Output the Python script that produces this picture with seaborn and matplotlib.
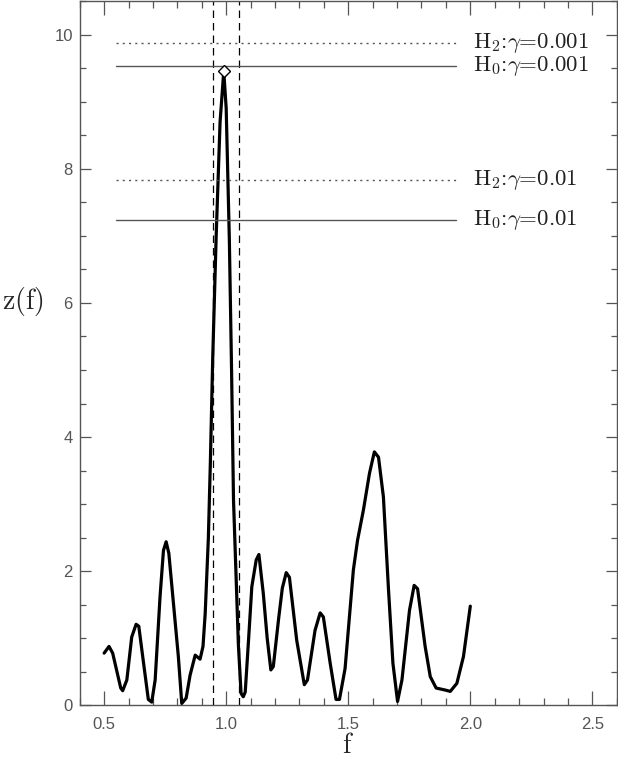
import numpy as np
import matplotlib
matplotlib.use('Agg')
import matplotlib.pyplot as plt
import seaborn as sns
from matplotlib.ticker import MultipleLocator

# periodogram values
freq = [0.500, 0.520, 0.535, 0.568, 0.576, 0.593, 0.613, 0.631, 0.642, 0.658,
        0.681, 0.695, 0.709, 0.729, 0.743, 0.754, 0.765, 0.784, 0.804, 0.818,
        0.836, 0.852, 0.873, 0.893, 0.905, 0.914, 0.927, 0.935, 0.945, 0.959,
        0.975, 0.990, 1.000, 1.013, 1.022, 1.030, 1.041, 1.050, 1.061, 1.070,
        1.078, 1.092, 1.105, 1.123, 1.134, 1.152, 1.168, 1.183, 1.193, 1.215,
        1.230, 1.246, 1.259, 1.289, 1.320, 1.333, 1.364, 1.385, 1.398, 1.426,
        1.450, 1.464, 1.487, 1.521, 1.538, 1.562, 1.587, 1.607, 1.624, 1.644,
        1.665, 1.683, 1.702, 1.720, 1.751, 1.770, 1.784, 1.815, 1.836, 1.860,
        1.897, 1.918, 1.945, 1.972, 2.000]
zf = [0.78, 0.88, 0.78, 0.26, 0.22, 0.38, 1.02, 1.21, 1.18, 0.73,
      0.09, 0.05, 0.38, 1.62, 2.31, 2.44, 2.27, 1.52, 0.73, 0.03,
      0.11, 0.45, 0.75, 0.69, 0.88, 1.37, 2.50, 3.60, 5.20, 7.00,
      8.70, 9.45, 8.90, 6.93, 5.00, 3.06, 1.87, 0.90, 0.18, 0.13,
      0.20, 1.00, 1.77, 2.17, 2.25, 1.67, 1.00, 0.53, 0.58, 1.30,
      1.75, 1.98, 1.91, 0.97, 0.31, 0.38, 1.12, 1.38, 1.32, 0.63,
      0.09, 0.09, 0.55, 2.02, 2.46, 2.91, 3.46, 3.78, 3.70, 3.11,
      1.72, 0.63, 0.06, 0.38, 1.42, 1.79, 1.74, 0.88, 0.43, 0.26,
      0.23, 0.21, 0.33, 0.73, 1.48]

# significance thresholds
thr_hyp = ['2', '0', '2', '0']
thr_gamma = ['0.001', '0.001', '0.01', '0.01']
thr_values = [9.87, 9.53, 7.83, 7.23]
thr_range = [0.55, 1.94]

# frequency window around the peak
window = [0.947, 1.054]

sns.set_style('ticks')
plt.rcParams['font.family'] = ['Liberation Sans', 'DejaVu Sans']
plt.rcParams['mathtext.fontset'] = 'cm'

fig = plt.figure(figsize=(6.18, 7.63), dpi=100)
ax = fig.add_axes([0.129, 0.0754, 0.869, 0.9233])

sns.lineplot(x=freq, y=zf, color='black', linewidth=2.3, sort=False,
             estimator=None, ax=ax)

# diamond on the highest peak
ipk = int(np.argmax(zf))
ax.plot(freq[ipk], zf[ipk], marker='D', markersize=6, markerfacecolor='white',
        markeredgecolor='black', markeredgewidth=1.0, zorder=5)

for w in window:
    ax.axvline(w, color='black', linestyle=(0, (6, 4)), linewidth=0.9)

for hyp, gam, val in zip(thr_hyp, thr_gamma, thr_values):
    ls = (0, (1.5, 3)) if hyp == '2' else '-'
    ax.plot(thr_range, [val, val], color='#555555', linestyle=ls, linewidth=1.0)
    ax.text(2.012, val, 'H$_%s$:$\\gamma$=%s' % (hyp, gam), family='cmr10',
            fontsize=16.5, va='center', ha='left', color='#222222')

ax.set_xlim(0.4, 2.6)
ax.set_ylim(0, 10.5)
ax.xaxis.set_minor_locator(MultipleLocator(0.1))
ax.yaxis.set_minor_locator(MultipleLocator(0.5))
ax.set_xticks([0.5, 1.0, 1.5, 2.0, 2.5])
ax.set_xticklabels(['0.5', '1.0', '1.5', '2.0', '2.5'])
ax.set_yticks([0, 2, 4, 6, 8, 10])
ax.set_yticklabels(['0', '2', '4', '6', '8', '10'])

ax.tick_params(axis='both', which='both', direction='in', top=True, right=True,
               color='#555555', labelcolor='#555555', labelsize=12, width=0.9)
ax.tick_params(axis='x', which='major', length=10, pad=8)
ax.tick_params(axis='x', which='minor', length=5)
ax.tick_params(axis='y', which='major', length=8, pad=5)
ax.tick_params(axis='y', which='minor', length=4.5)
for sp in ax.spines.values():
    sp.set_color('#555555')
    sp.set_linewidth(1.0)

ax.set_xlabel(r'$\mathrm{f}$', fontsize=20, labelpad=1)
ax.set_ylabel(r'$\mathrm{z(f)}$', fontsize=20, rotation=0, labelpad=10)
ax.yaxis.set_label_coords(-0.105, 0.55)

fig.savefig('out.png', dpi=100)
